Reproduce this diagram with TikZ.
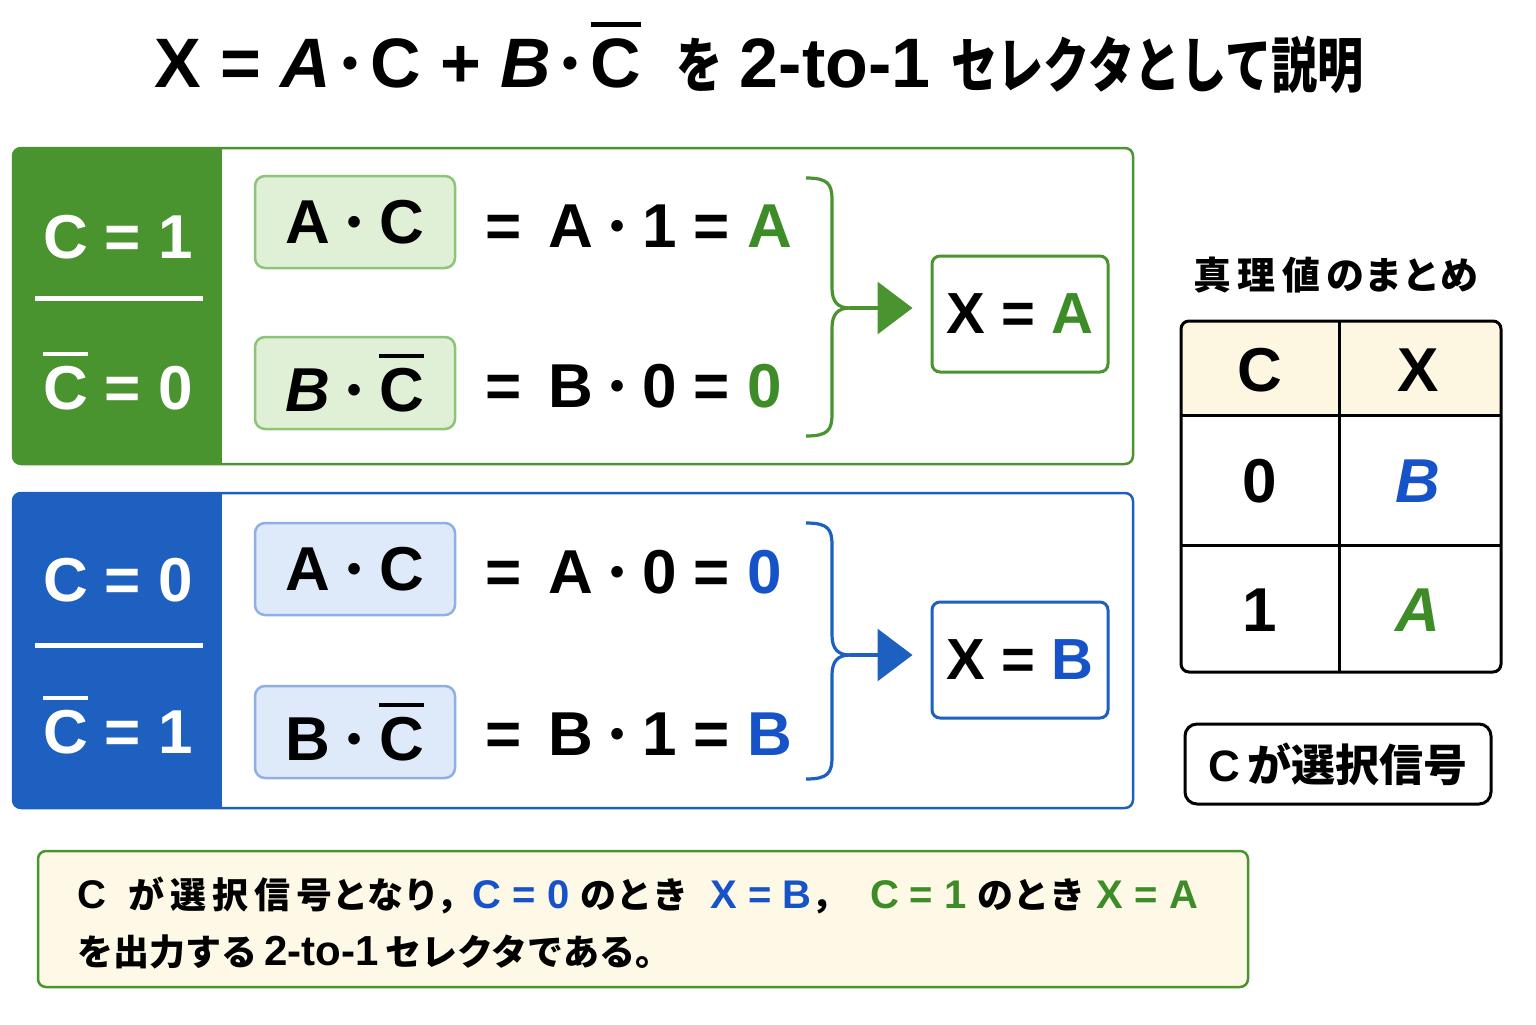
\documentclass[tikz,border=0pt]{standalone}
\usepackage{fontspec}
\setmainfont{Liberation Sans}
\newfontfamily\jp{Noto Sans CJK JP}
\usetikzlibrary{arrows.meta}
\definecolor{gr}{RGB}{74,148,48}
\definecolor{grtext}{RGB}{62,140,40}
\definecolor{grlight}{RGB}{223,240,214}
\definecolor{grborder}{RGB}{140,196,120}
\definecolor{bl}{RGB}{30,96,192}
\definecolor{bltext}{RGB}{22,82,200}
\definecolor{bllight}{RGB}{222,234,250}
\definecolor{blborder}{RGB}{143,176,228}
\definecolor{cream}{RGB}{253,249,230}
\definecolor{hdr}{RGB}{253,246,224}
\newcommand\cbar{\leavevmode\rlap{\rule[0.86em]{0.72em}{0.075em}}C}
\newcommand\dotop{\raisebox{0.125em}{\scalebox{0.65}{\textbullet}}}
\newcommand\md{\ \dotop\ }
\newcommand\jpn[1]{{\jp\bfseries\scalebox{0.77}[1]{#1}}}
\tikzset{
  big/.style={font=\fontsize{31}{34}\selectfont\bfseries},
  side/.style={font=\fontsize{31}{34}\selectfont\bfseries, text=white},
  gbox/.style={draw=grborder, fill=grlight, line width=1.25pt, rounded corners=5pt, minimum width=100pt, minimum height=46pt, big},
  bbox/.style={draw=blborder, fill=bllight, line width=1.25pt, rounded corners=5pt, minimum width=100pt, minimum height=46pt, big},
  eq/.style={anchor=west, big},
  res/.style={draw, fill=white, line width=1.5pt, rounded corners=4pt, minimum width=88pt, minimum height=58pt, font=\fontsize{29}{32}\selectfont\bfseries},
  brace/.style={line width=1.6pt},
  cell/.style={font=\fontsize{31}{34}\selectfont\bfseries},
}
\begin{document}
\begin{tikzpicture}[x=0.5pt,y=-0.5pt]
\useasboundingbox (0,0) rectangle (1536,1024);
\fill[white] (0,0) rectangle (1536,1024);
% title
\node (title) at (759,58) {\fontsize{35}{40}\selectfont\bfseries X = \textit{A}\,\dotop\,C + \textit{B}\,\dotop\,\cbar\hspace{0.5em}{\fontsize{30}{34}\selectfont\jpn{を}}\hspace{0.25em}2-to-1\hspace{0.3em}{\fontsize{30}{34}\selectfont\jpn{セレクタとして説明}}};

% ---------- green panel ----------
\begin{scope}
\clip[rounded corners=4pt] (13,148) rectangle (1133,464);
\fill[white] (13,148) rectangle (1133,464);
\fill[gr] (13,148) rectangle (222,464);
\end{scope}
\draw[gr, line width=1.25pt, rounded corners=4pt] (13,148) rectangle (1133,464);
\node[side] (g1) at (118,237) {C = 1};
\draw[white, line width=2.5pt] (35,298) -- (203,298);
\node[side] (g0) at (118,381) {\cbar\ = 0};
\node[gbox] (gac) at (355,222) {A\md C};
\node[gbox] (gbc) at (355,383) {\textit{B}\md\cbar};
\node[eq] (geq1) at (478,226) {=\ \,A\md 1 = \textcolor{grtext}{A}};
\node[eq] (geq2) at (478,386) {=\ \,B\md 0 = \textcolor{grtext}{0}};
\node[res, draw=gr] (xa) at (1020,314) {X = \textcolor{grtext}{A}};
\coordinate (gt) at (806,178);
\coordinate (gb) at (806,436);
\coordinate (gm) at (850,308);
\draw[gr, brace] (gt) .. controls (828,178) and (832,184) .. (832,200) -- (832,288) .. controls (832,302) and (838,308) .. (gm);
\draw[gr, brace] (gb) .. controls (828,436) and (832,430) .. (832,414) -- (832,328) .. controls (832,314) and (838,308) .. (gm);
\draw[gr, brace, -{Triangle[length=17.5pt,width=26pt]}, shorten >=9pt] (gm) -- (xa.west |- gm);

% ---------- blue panel ----------
\begin{scope}
\clip[rounded corners=4pt] (13,493) rectangle (1133,808);
\fill[white] (13,493) rectangle (1133,808);
\fill[bl] (13,493) rectangle (222,808);
\end{scope}
\draw[bl, line width=1.25pt, rounded corners=4pt] (13,493) rectangle (1133,808);
\node[side] (b0) at (118,580) {C = 0};
\draw[white, line width=2.5pt] (35,645) -- (203,645);
\node[side] (b1) at (118,725) {\cbar\ = 1};
\node[bbox] (bac) at (355,569) {A\md C};
\node[bbox] (bbc) at (355,732) {B\md\cbar};
\node[eq] (beq1) at (478,572) {=\ \,A\md 0 = \textcolor{bltext}{0}};
\node[eq] (beq2) at (478,734) {=\ \,B\md 1 = \textcolor{bltext}{B}};
\node[res, draw=bl] (xb) at (1020,660) {X = \textcolor{bltext}{B}};
\coordinate (bt) at (806,523);
\coordinate (bb) at (806,779);
\coordinate (bm) at (850,655);
\draw[bl, brace] (bt) .. controls (828,523) and (832,529) .. (832,545) -- (832,635) .. controls (832,649) and (838,655) .. (bm);
\draw[bl, brace] (bb) .. controls (828,779) and (832,773) .. (832,757) -- (832,675) .. controls (832,661) and (838,655) .. (bm);
\draw[bl, brace, -{Triangle[length=17.5pt,width=26pt]}, shorten >=9pt] (bm) -- (xb.west |- bm);

% ---------- truth table ----------
\node (ttitle) at (1336,275) {\fontsize{19}{22}\selectfont\jp\bfseries 真\,理\,値\,のまとめ};
\begin{scope}
\clip[rounded corners=4pt] (1181,321) rectangle (1501,672);
\fill[white] (1181,321) rectangle (1501,672);
\fill[hdr] (1181,321) rectangle (1501,415);
\end{scope}
\draw[line width=1.5pt, rounded corners=4pt] (1181,321) rectangle (1501,672);
\draw[line width=1.5pt] (1339,321) -- (1339,672);
\draw[line width=1.5pt] (1181,415) -- (1501,415);
\draw[line width=1.5pt] (1181,545) -- (1501,545);
\node[cell] (hc) at (1260,370) {C};
\node[cell] (hx) at (1418,370) {X};
\node[cell] (c0) at (1260,481) {0};
\node[cell, text=bltext] (x0) at (1418,481) {\textit{B}};
\node[cell] (c1) at (1260,610) {1};
\node[cell, text=grtext] (x1) at (1418,610) {\textit{A}};

\node[draw, line width=1.5pt, rounded corners=6pt, minimum width=153pt, minimum height=40pt, fill=white] (sel) at (1338,764) {\fontsize{22}{24}\selectfont\bfseries C\,{\jp\bfseries が選択信号}};

% ---------- note ----------
\node[draw=gr, fill=cream, line width=1.25pt, rounded corners=4pt, minimum width=605pt, minimum height=68pt] (note) at (643,919) {};
\node[anchor=west] (n1) at (70,895) {\bfseries\fontsize{20}{22}\selectfont C\ \ {\jp\fontsize{18}{22}\selectfont が\,選\,択\,信\,号となり，}\textcolor{bltext}{C = 0}\ {\jp\fontsize{18}{22}\selectfont のとき}\ \ \textcolor{bltext}{X = B}{\jp\fontsize{18}{22}\selectfont ，}\ \ \textcolor{grtext}{C = 1}\ {\jp\fontsize{18}{22}\selectfont のとき}\ \textcolor{grtext}{X = A}};
\node[anchor=west] (n2) at (70,952) {\bfseries\fontsize{21}{22}\selectfont{\jp\fontsize{18}{22}\selectfont を出力する}\,2-to-1\,{\jp\fontsize{18}{22}\selectfont セレクタである。}};
\end{tikzpicture}
\end{document}
